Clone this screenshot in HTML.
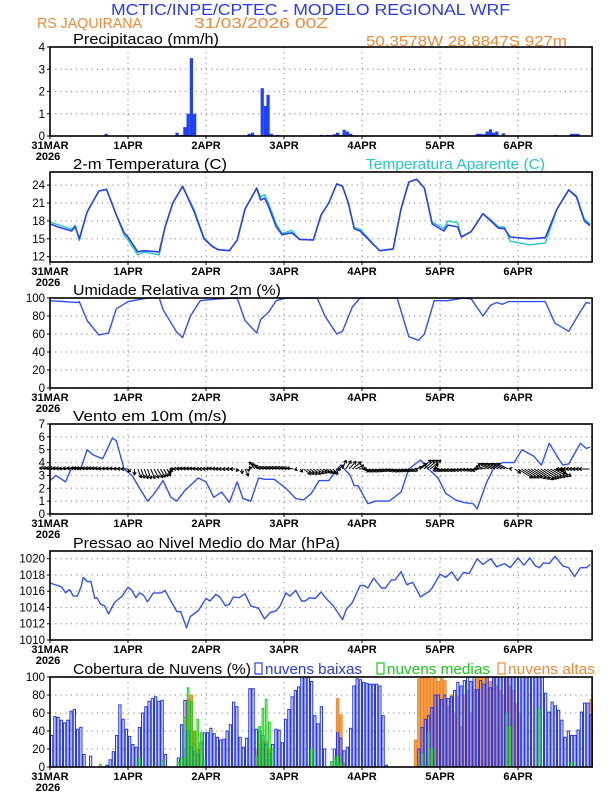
<!DOCTYPE html>
<html><head><meta charset="utf-8"><style>
html,body{margin:0;padding:0;background:#fff;}
svg{display:block;font-family:"Liberation Sans",sans-serif;}
</style></head><body>
<svg id="chart" width="612" height="792" viewBox="0 0 612 792">
<text x="111" y="15" font-size="16" textLength="399" lengthAdjust="spacingAndGlyphs" fill="#2838f8">MCTIC/INPE/CPTEC - MODELO REGIONAL WRF</text>
<text x="37" y="28" font-size="15" textLength="105" lengthAdjust="spacingAndGlyphs" fill="#f08a38">RS JAQUIRANA</text>
<text x="194" y="28" font-size="15" textLength="134" lengthAdjust="spacingAndGlyphs" fill="#f08a38">31/03/2026 00Z</text>
<text x="366" y="46" font-size="15" textLength="201" lengthAdjust="spacingAndGlyphs" fill="#f08a38">50.3578W 28.8847S 927m</text>
<g id="panels"></g>
</svg>
<script>
// ---- data ----
const dayLabels = ["31MAR","1APR","2APR","3APR","4APR","5APR","6APR"];
const precipHours = [16.8,38.6,40,41,42,43,44,60.8,61.8,64.8,65.8,66.6,67.6,69.6,80,83,85,86,87,88,89,90,91,92,93,131,132,133,134,135,136,137,139,155,160,161,162];
const precipVals  = [0.1,0.15,0.05,0.4,1.0,3.5,1.0,0.1,0.15,2.15,1.35,1.85,0.1,0.05,0.03,0.05,0.05,0.03,0.08,0.15,0.05,0.28,0.2,0.1,0.03,0.1,0.1,0.08,0.2,0.3,0.15,0.2,0.12,0.05,0.1,0.1,0.1];
const tempHours = [0,2.4,6.6,7.8,9,11.4,15,17.4,20.4,22.8,24,27,28.8,33.6,35.4,37.8,40.8,44.4,47.4,49.8,51.6,55.2,57.6,60,63.6,64.8,66,67.2,69.6,71.4,74.4,76.8,81,83.4,85.8,88.2,90,91.8,93.6,95.4,101.4,105.6,108,110.4,112.8,115.2,117.6,121.2,122.4,125.4,126.6,129.6,133.2,135.6,138,139.8,141.6,147.6,152.4,156,159.6,162,164.4,166.2];
const tempVals  = [17.5,17,16.3,17,15,19.5,23,23.3,19,16,15.3,12.8,13,12.8,17,21,23.8,19.5,15,13.8,13.2,13,14.8,20,23.5,21.5,21.8,20.5,17,15.7,16,14.9,14.8,19,21,24.2,23.8,21,16.7,16.3,13,13.3,20,24.5,25,23.5,17.5,16.3,17.3,17,15.3,16.2,19.2,18,16.8,16.7,15.3,15,15.2,20,23.2,22,18,17.2];
const apparentVals = [17.8,17.4,16.6,17.3,14.7,19.5,23,23.3,19,15.6,14.8,12.3,12.8,12.3,17,21,23.8,19.8,15.2,13.8,13.2,13,14.8,20,23.5,22,22.4,21,17.5,15.9,16.4,14.9,14.8,19,21,24.2,23.8,21,16.9,16.6,13,13.3,20,24.5,25,23.5,17.8,16.7,18,17.7,15.3,16.2,19.2,18.2,17,17,14.6,14,14.3,20,23.2,22.2,18.3,17.5];
const rhHours = [0,8.4,9,11.4,15,18,20.4,24,27,30,33.6,34.8,39,40.8,43.2,46.2,51.6,57.6,60,63.6,64.8,67.2,69.6,72.6,82.2,84.6,88.2,90,93,95.4,106.8,110.4,113.4,115.2,118.2,122.4,127.2,129.6,133.2,135.6,137.4,139.2,141,152.4,155.4,159.6,163.2,165,166.2];
const rhVals  = [97,95,96,75,59,61,88,96,98,100,100,87,62,56,80,97,99,100,75,61,76,84,97,100,100,80,60,63,90,100,100,57,53,60,97,97,100,99,80,92,95,93,96,96,72,63,85,95,94];
const windHours = [0,1.8,4.8,6.6,9.6,11.4,13.2,16.2,19.2,20.4,22.8,25.2,30,31.8,34.8,37.2,39,41.4,45.6,48,50.4,52.8,55.2,57.6,59.4,61.8,64.2,66,69,72.6,75.6,78,80.4,82.8,85.8,89.4,92.4,93.6,94.8,97.8,100.2,104.4,108,110.4,114,116.4,119.4,121.8,124.8,127.2,130.2,131.4,134.4,136.8,139.2,142.8,145.2,148.8,151.2,153.6,156,157.8,159.6,163.2,165,166.2];
const windSpeed = [2.6,3.0,2.5,3.6,3.6,5.0,4.6,4.3,5.9,5.7,3.5,3.0,1.0,1.5,2.6,1.3,1.0,1.8,2.8,2.5,1.3,1.7,0.9,2.5,1.2,1.0,2.8,2.7,2.7,2.0,1.2,1.1,1.6,2.6,2.6,3.8,3.0,2.2,2.2,0.8,1.0,1.0,1.7,3.5,4.2,3.5,2.8,1.6,1.1,0.9,0.8,0.4,2.5,3.7,4.0,4.0,5.0,4.5,3.8,5.5,4.5,3.8,3.9,5.5,5.1,5.2];
// 3-hourly wind vector components (m/s), h = 0,3,...,168
const windU = [-3,-3,-3,-2.5,-3,-3,-3,-2.5,-2,1,1,1.5,1,-2,-2,-2,-2,-2,-2,-1.5,1,-1.5,-2,-2,-2,-2,2,2,2,1.5,1,2.5,2,2,2,2,2,2,3,3,-2,-2,-2,-2,-2,-3,-3,-3,4,4,4.5,4,4,-3,-3,-3,-3];
const windV = [0.3,0.3,0.2,0.3,0.2,0.3,0.2,0.2,0,-2.5,-2.8,-2.5,-2,0,0.2,0.2,0,0.2,0,0,-2,2,0.5,0.5,0.5,0.3,-1.5,-1.5,-1,-1.5,2.5,2,-0.7,-0.7,-0.5,-0.7,-0.6,-0.5,2.5,2.5,-0.5,-0.5,-0.5,-0.3,-0.5,1.5,1.5,1.5,-2.5,-2.5,-3,-2.5,-2,0,0,0,0];
const presHours = [0,2.4,3.6,4.8,6,7.2,8.4,9.6,10.2,11.4,12.6,13.8,14.4,15.6,16.8,18,19.8,22.2,24,25.2,26.4,27.6,28.8,30,31.8,34.2,35.4,37.2,39,40.2,42,43.2,45.6,48,49.2,51,52.2,54,55.2,56.4,58.2,60,61.8,64.2,66,67.8,69.6,70.8,72.6,73.8,75.6,77.4,78.6,79.8,81.6,83.4,85.2,87,90,91.2,93,95.4,96.6,97.8,99.6,102,103.2,105,106.2,108,109.8,111.6,114,116.4,117.6,120,121.8,123.6,125.4,127.2,129,131.4,133.2,135.6,137.4,139.8,141.6,144,145.8,147.6,149.4,150.6,151.8,153.6,155.4,157.8,159.6,161.4,163.2,165,166.2];
const presVals  = [1017,1016.7,1016.5,1015.8,1016.2,1015.4,1015.4,1016.6,1017.7,1017.2,1017.2,1015.1,1015.2,1014.4,1014.2,1013.2,1014.6,1015.4,1016.5,1016.1,1015.2,1015.8,1015.5,1014.7,1015.8,1015.8,1016.1,1014.8,1013.5,1013.5,1011.5,1012.9,1013.6,1015.1,1014.8,1015.6,1015.3,1014.2,1014.4,1015.3,1015.2,1015.7,1014.2,1013.9,1012.6,1013.4,1013.6,1014.2,1015.8,1015.4,1016.1,1014.8,1014.8,1015.2,1015.1,1015.9,1015.0,1014.3,1012.5,1013.8,1014.6,1016.7,1016.7,1016.4,1017.6,1016.4,1016.4,1017.4,1017.4,1018.4,1016.8,1017.1,1015.3,1015.9,1016.4,1018.1,1017.7,1018.4,1017.3,1018.3,1018.2,1020,1019.3,1020,1019,1019.4,1018.9,1020.1,1019.2,1020.1,1019.1,1018.9,1019.5,1019.4,1020.3,1019.1,1018.9,1017.8,1018.9,1018.9,1019.3];
const cloudLow = [35,56,55,52,49,52,62,64,42,44,14,0,12,0,0,0,0,2,8,17,35,69,53,42,34,25,22,44,60,67,73,76,78,73,74,14,0,0,0,10,47,74,40,22,17,14,27,38,38,43,37,33,30,31,40,47,72,67,33,22,32,87,87,42,40,35,25,15,25,42,41,27,53,64,78,85,89,100,100,100,95,57,48,67,20,0,0,20,38,32,18,22,43,90,98,97,94,93,92,92,92,90,57,2,0,0,0,0,0,0,0,0,0,20,44,53,57,66,80,80,75,80,76,78,85,94,90,96,100,95,100,86,96,92,100,88,100,100,100,100,100,100,100,100,100,100,100,100,100,100,100,100,82,61,72,68,63,52,33,40,35,35,41,61,71,71,58];
const cloudMidHours = [15,27,34,39,40,41,42,43,44,45,46,47,63,64,65,66,67,68,80,86,87,88,89,114,116,117,140,141,150,160];
const cloudMidVals  = [3,10,7,5,10,55,88,73,40,53,38,8,12,45,65,75,50,20,20,6,10,12,4,15,38,20,60,45,65,5];
const cloudHighHours = [41,42,43,44,45,63,64,65,66,67,88,89,90,112,113,114,115,116,117,118,119,120,121,122,123,124,125,126,127,128,129,130,131,132,133,134,135,136,137,138,139,140,141,142,143,144,166];
const cloudHighVals  = [20,75,80,40,20,20,25,30,28,20,76,58,5,30,98,100,100,100,98,100,95,100,96,68,80,60,78,45,80,85,60,86,100,100,100,100,95,100,90,85,80,100,90,85,70,60,75];

// ---- layout ----
const X0 = 50, PXH = 3.25;
function xh(h){ return X0 + h * PXH; }
const XR = xh(166.8);
const NS = "http://www.w3.org/2000/svg";
const root = document.getElementById("panels");
function el(tag, attrs, parent){
  const e = document.createElementNS(NS, tag);
  for (const k in attrs) e.setAttribute(k, attrs[k]);
  (parent || root).appendChild(e);
  return e;
}
function makeY(top, bot, vmin, vmax){ return v => bot - (v - vmin) / (vmax - vmin) * (bot - top); }

function panel(name, top, bot, vmin, vmax, ticks, title, titleLen){
  const g = el("g", {});
  
  
  const y = makeY(top, bot, vmin, vmax);
  ticks.forEach(t => {
    const gl = el("line", {x1:X0, x2:XR, y1:y(t), y2:y(t), stroke:"#999", "stroke-width":1.2, "stroke-dasharray":"1.2,4"}, g);
    
    
    const tl = el("text", {x:X0-5, y:y(t)+4, "text-anchor":"end", "font-size":11.5, fill:"#000"}, g);
    tl.textContent = t;
    
    
    el("line", {x1:X0-3, x2:X0, y1:y(t), y2:y(t), stroke:"#000"}, g);
  });
  dayLabels.forEach((d, i) => {
    const xx = xh(i * 24);
    if (i > 0) {
      const vl = el("line", {x1:xx, x2:xx, y1:top, y2:bot, stroke:"#999", "stroke-width":1.2, "stroke-dasharray":"1.2,4"}, g);
      
      
    }
    el("line", {x1:xx, x2:xx, y1:bot, y2:bot+3, stroke:"#000"}, g);
    const lab = el("text", {x:xx, y:bot+13, "text-anchor":"middle", "font-size":11, fill:"#000", "font-weight":"bold"}, g);
    lab.textContent = d;
    
    
  });
  const yr = el("text", {x:X0-2, y:bot+24, "text-anchor":"middle", "font-size":11, fill:"#000", "font-weight":"bold"}, g);
  yr.textContent = "2026";
  
  
  const tt = el("text", {x:73, y:top-3, "font-size":14.5, fill:"#000", textLength:titleLen, lengthAdjust:"spacingAndGlyphs"}, g);
  tt.textContent = title;
  
  
  const plot = el("g", {}, g);
  
  
  return {g, plot, y, top, bot};
}
function frame(p, name){
  const r = el("rect", {x:X0, y:p.top, width:XR-X0, height:p.bot-p.top, fill:"none", stroke:"#000", "stroke-width":1.6}, p.g);
  
  
}
function line(p, hours, vals, color, name, w){
  const d = hours.map((h, i) => (i ? "L" : "M") + xh(h).toFixed(1) + "," + p.y(vals[i]).toFixed(1)).join("");
  const l = el("path", {d, fill:"none", stroke:color, "stroke-width":w || 1.4, "stroke-linejoin":"round"}, p.plot);
  
  
}

// Precip
const pp = panel("precipitation", 47, 136, 0, 4, [0,1,2,3,4], "Precipitacao (mm/h)", 146);
precipHours.forEach((h, i) => {
  const b = el("rect", {x:xh(h), y:pp.y(precipVals[i]), width:PXH, height:pp.y(0)-pp.y(precipVals[i]), fill:"#2040ff"}, pp.plot);
  
  
});
frame(pp, "precipitation");

// Temperature
const tp = panel("temperature", 172, 262, 11.11, 26.2, [12,15,18,21,24], "2-m Temperatura (C)", 154);
line(tp, tempHours, apparentVals, "#20c8c8", "apparent-temperature-line");
line(tp, tempHours, tempVals, "#2a40f0", "temperature-line", 1.6);
const tl2 = el("text", {x:366, y:169, "font-size":14.5, fill:"#20c8c8", textLength:179, lengthAdjust:"spacingAndGlyphs"}, tp.g);
tl2.textContent = "Temperatura Aparente (C)";


frame(tp, "temperature");

// RH
const rp = panel("humidity", 298, 388, 0, 100, [0,20,40,60,80,100], "Umidade Relativa em 2m (%)", 208);
line(rp, rhHours, rhVals, "#3050ff", "humidity-line");
frame(rp, "humidity");

// Wind
const wp = panel("wind", 424, 514, 0, 7, [0,1,2,3,4,5,6,7], "Vento em 10m (m/s)", 154);
line(wp, windHours, windSpeed, "#3050ff", "wind-speed-line");
const base = wp.y(3.5), AS = 3.6;
for (let h = 0; h <= 166; h++) {
  const i = Math.floor(h / 3), f = (h % 3) / 3;
  const u = windU[i] + (windU[Math.min(i+1, windU.length-1)] - windU[i]) * f;
  const v = windV[i] + (windV[Math.min(i+1, windV.length-1)] - windV[i]) * f;
  const x1 = xh(h), x2 = x1 + u * AS, y2 = base - v * AS;
  const a = el("line", {x1, y1:base, x2, y2, stroke:"#000", "stroke-width":1}, wp.plot);
  
  
  const ang = Math.atan2(y2 - base, x2 - x1);
  const hd = el("path", {d:`M${x2},${y2}L${x2-3.5*Math.cos(ang-0.5)},${y2-3.5*Math.sin(ang-0.5)}M${x2},${y2}L${x2-3.5*Math.cos(ang+0.5)},${y2-3.5*Math.sin(ang+0.5)}`, stroke:"#000", "stroke-width":1, fill:"none"}, wp.plot);
  
  
}
frame(wp, "wind");

// Pressure
const prp = panel("pressure", 551, 640, 1010, 1020.95, [1010,1012,1014,1016,1018,1020], "Pressao ao Nivel Medio do Mar (hPa)", 267);
line(prp, presHours, presVals, "#3050ff", "pressure-line");
frame(prp, "pressure");

// Clouds
const cp = panel("clouds", 677, 767, 0, 100, [0,20,40,60,80,100], "Cobertura de Nuvens (%)", 178);
cloudHighHours.forEach((h, i) => {
  const b = el("rect", {x:xh(h)+0.3, y:cp.y(cloudHighVals[i]), width:PXH-0.6, height:cp.y(0)-cp.y(cloudHighVals[i]), fill:"#f5a050", stroke:"#f08020", "stroke-width":0.8}, cp.plot);
  
  
});
cloudLow.forEach((v, h) => {
  if (v <= 0) return;
  const b = el("rect", {x:xh(h)+0.5, y:cp.y(v), width:PXH-1, height:cp.y(0)-cp.y(v), fill:"rgba(140,160,255,0.25)", stroke:"#2838f0", "stroke-width":1}, cp.plot);
  
  
});
cloudMidHours.forEach((h, i) => {
  const b = el("rect", {x:xh(h)+0.8, y:cp.y(cloudMidVals[i]), width:PXH-1.6, height:cp.y(0)-cp.y(cloudMidVals[i]), fill:"rgba(60,220,60,0.3)", stroke:"#18d018", "stroke-width":1}, cp.plot);
  
  
});
frame(cp, "clouds");
const legendItems = [["nuvens baixas","#2838f0",255,97],["nuvens medias","#18c818",377,103],["nuvens altas","#f08a38",498,87]];
legendItems.forEach(it => {
  const r = el("rect", {x:it[2], y:663, width:7, height:11, fill:"none", stroke:it[1], "stroke-width":1.2}, cp.g);
  
  
  const t = el("text", {x:it[2]+10, y:674, "font-size":14.5, fill:it[1], textLength:it[3], lengthAdjust:"spacingAndGlyphs"}, cp.g);
  t.textContent = it[0];
  
  
});
</script>
</body></html>
